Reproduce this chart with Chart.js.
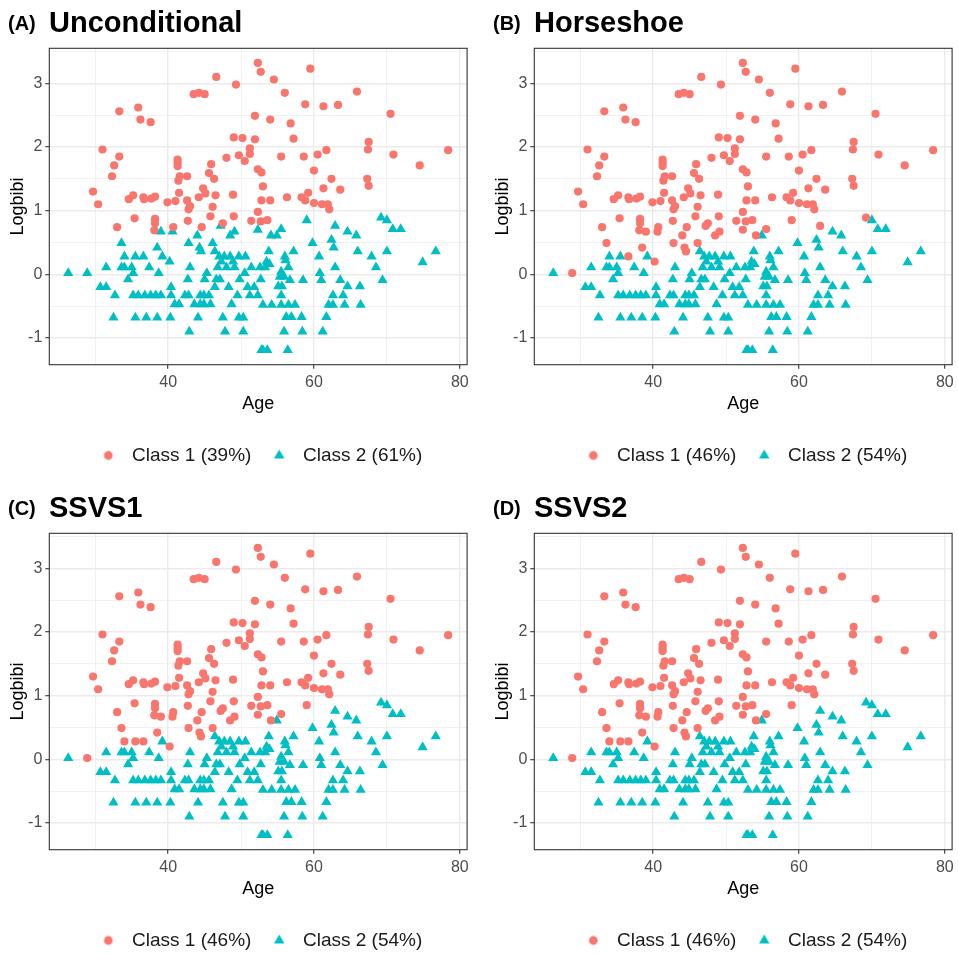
<!DOCTYPE html>
<html>
<head>
<meta charset="utf-8">
<title>Latent classes: Age vs Logbibi</title>
<style>
  body { margin: 0; background: #fff; }
  #page { position: relative; width: 958px; height: 954px; }
  .panel { position: absolute; width: 473px; height: 485px; }
  .tag, .name { position: absolute; font-family: "Liberation Sans", Arial, sans-serif; font-weight: bold; color: #000; white-space: nowrap; }
  .tag { font-size: 20px; line-height: 20px; }
  .name { font-size: 29px; line-height: 29px; }
</style>
<script src="https://cdn.jsdelivr.net/npm/chart.js"></script>
</head>
<body>
<div id="page"></div>

<script>
// points that are Class 1 in every panel
const sureAge1 = [52.3,52.7,46.6,49.3,43.5,44.2,45.0,33.3,35.9,36.2,37.6,51.9,49.0,50.2,51.9,51.2,49.7,51.2,50.5,48.0,
  31.0,33.3,32.6,32.3,29.7,30.4,41.3,41.3,41.3,41.6,42.6,41.4,45.9,45.6,46.3,44.8,45.1,44.2,46.5,41.5,
  42.6,41.0,39.9,43.0,42.8,46.1,48.9,52.3,52.8,52.3,52.8,53.0,34.6,35.2,36.6,36.7,37.7,38.2,35.4,38.2,
  42.7,45.8,49.0,51.4,38.2,38.1,33.0,40.7,44.6,47.5,52.7,59.5,54.5,56.0,65.9,58.8,61.3,63.3,70.5,54.0,
  56.8,57.2,67.5,67.4,78.4,61.7,60.5,58.6,55.5,70.9,74.5,60.0,62.4,67.3,67.5,61.3,63.6,54.0,56.3,58.3,
  59.2,58.8,60.0,61.1,61.9,62.1,53.6];
const sureLogbibi1 = [3.32,3.18,3.10,2.98,2.83,2.85,2.83,2.56,2.62,2.43,2.39,2.49,2.15,2.14,2.12,1.98,1.87,1.89,1.78,1.83,
  1.96,1.85,1.71,1.54,1.30,1.10,1.80,1.75,1.70,1.54,1.54,1.47,1.73,1.59,1.50,1.35,1.27,1.21,1.24,1.28,
  1.16,1.15,1.13,1.07,1.02,1.06,1.25,1.65,1.60,0.98,1.16,1.38,1.18,1.24,1.21,1.18,1.19,1.22,0.88,0.87,
  0.84,0.91,0.91,0.84,0.80,0.69,0.74,0.74,0.74,0.80,0.83,3.23,3.06,2.85,2.87,2.67,2.64,2.66,2.52,2.43,
  2.37,2.13,2.08,1.96,1.95,1.95,1.88,1.85,1.85,1.88,1.71,1.63,1.50,1.50,1.39,1.35,1.33,1.16,1.21,1.21,
  1.28,1.16,1.12,1.10,1.10,1.02,0.85];

// points that are Class 2 in every panel
const sureAge2 = [26.3,31.5,30.7,31.5,32.7,32.5,33.6,34.0,35.0,35.2,34.5,37.4,38.7,39.2,35.2,35.9,36.8,37.6,38.3,39.0,
  35.5,37.0,38.5,40.3,40.4,40.4,40.9,41.5,43.0,42.7,42.3,42.8,43.6,44.4,44.9,45.8,44.4,44.9,45.6,45.3,
  45.0,44.1,42.9,46.4,47.0,47.7,48.5,49.7,50.6,47.3,48.9,46.8,48.0,49.1,46.6,47.1,46.4,48.3,49.5,48.7,
  47.5,49.7,50.3,47.8,50.3,49.8,50.5,51.4,50.9,51.8,51.2,52.3,52.7,52.8,
  54.9,64.6,65.8,70.0,70.8,71.9,62.4,59.8,62.7,53.8,57.2,66.0,70.0,76.7,74.9,56.0,56.1,60.7,67.9,53.5,
  53.9,52.6,53.3,56.5,62.9,68.5,55.5,55.3,55.9,60.8,61.0,56.7,58.5,63.6,69.4,55.1,55.6,64.6,66.3,55.5,
  62.6,64.0,53.0,54.2,55.5,56.5,57.4,62.0,62.6,64.2,66.4,56.2,56.9,58.3,61.7,55.9,58.4,61.2,53.0,53.6,
  56.4];
const sureLogbibi2 = [0.02,0.11,-0.20,-0.20,-0.33,-0.68,0.11,0.11,0.11,0.02,-0.08,0.11,0.02,0.28,-0.33,-0.33,-0.33,-0.33,-0.33,-0.33,
  -0.68,-0.68,-0.68,-0.68,-0.20,-0.33,-0.47,-0.47,0.11,-0.08,-0.33,-0.33,-0.47,-0.47,-0.47,-0.47,-0.33,-0.33,-0.33,0.02,
  -0.08,-0.68,-0.90,0.36,0.28,0.28,0.28,0.28,0.28,0.20,0.20,0.11,0.11,0.11,-0.08,-0.08,-0.20,-0.20,-0.33,-0.47,
  -0.68,-0.68,-0.68,-0.90,-0.90,-0.08,0.02,0.11,-0.20,-0.20,-0.33,-0.33,-0.08,-1.19,
  0.61,0.67,0.61,0.85,0.71,0.71,0.54,0.49,0.42,0.36,0.36,0.36,0.36,0.36,0.19,0.28,0.22,0.28,0.28,0.20,
  0.16,0.11,0.11,0.11,0.11,0.11,0.04,-0.04,-0.04,0.02,-0.09,-0.09,-0.09,-0.09,-0.09,-0.19,-0.19,-0.19,-0.19,-0.33,
  -0.33,-0.33,-0.48,-0.48,-0.48,-0.48,-0.48,-0.48,-0.48,-0.48,-0.48,-0.67,-0.67,-0.67,-0.67,-0.90,-0.90,-0.90,-1.19,-1.19,
  -1.19];

// points whose class changes between the four models
const swingAge = [28.9,36.6,38.5,40.2,33.6,39.0,40.6,42.8,44.0,44.3,44.5,46.1,48.5,49.1,52.3,54.1,55.5,59.0,47.2,62.9,69.2,34.0,35.5];
const swingLogbibi = [0.02,0.28,0.42,0.20,0.49,0.67,0.67,0.49,0.61,0.42,0.36,0.49,0.61,0.67,0.70,0.61,0.71,0.85,0.76,0.76,0.89,0.28,0.28];
const swingUnconditional = [2,2,2,2,2,2,2,2,2,2,2,2,2,2,2,2,2,2,2,2,2,2,2];
const swingHorseshoe     = [1,1,1,1,1,1,1,1,1,1,1,1,1,1,1,1,1,1,1,1,1,2,2];
const swingSSVS1         = [1,1,1,1,1,1,1,1,1,1,1,1,1,1,1,1,1,1,1,2,2,1,1];
const swingSSVS2         = [1,1,1,1,1,1,1,1,1,1,1,1,1,1,1,1,1,1,1,2,2,1,1];

const panelTags = ['(A)', '(B)', '(C)', '(D)'];
const panelNames = ['Unconditional', 'Horseshoe', 'SSVS1', 'SSVS2'];
const class1Share = ['39%', '46%', '46%', '46%'];
const class2Share = ['61%', '54%', '54%', '54%'];

const ageTicks = [40, 60, 80];
const ageGrid = [30, 40, 50, 60, 70, 80];
const logbibiTicks = [-1, 0, 1, 2, 3];
const logbibiGrid = [-1, -0.5, 0, 0.5, 1, 1.5, 2, 2.5, 3, 3.5];

const RED = '#F8766D';
const TEAL = '#00BFC4';
const FONT = '"Liberation Sans", Arial, Helvetica, sans-serif';

Chart.defaults.font.family = FONT;

function makeIcon(shape, color) {
  const c = document.createElement('canvas');
  c.width = 16; c.height = 16;
  const g = c.getContext('2d');
  g.fillStyle = color;
  g.beginPath();
  if (shape === 'circle') {
    g.arc(8, 8, 4.4, 0, Math.PI * 2);
  } else {
    const r = 6.1;
    g.moveTo(8, 8 - r);
    g.lineTo(8 + r * 0.866, 8 + r * 0.5);
    g.lineTo(8 - r * 0.866, 8 + r * 0.5);
    g.closePath();
  }
  g.fill();
  return c;
}
const legendIcons = [makeIcon('circle', RED), makeIcon('triangle', TEAL)];

// ggplot-like panel border
const panelBorder = {
  id: 'panelBorder',
  afterDraw(chart) {
    const a = chart.chartArea, ctx = chart.ctx;
    ctx.save();
    ctx.strokeStyle = '#333333';
    ctx.lineWidth = 1.1;
    ctx.strokeRect(a.left, a.top, a.right - a.left, a.bottom - a.top);
    ctx.restore();
  }
};

// centre the legend under the plotting panel, not the whole canvas
const legendUnderPanel = {
  id: 'legendUnderPanel',
  afterLayout(chart) {
    const lg = chart.legend, a = chart.chartArea;
    const dx = (a.left + a.right) / 2 - (lg.left + lg.right) / 2;
    lg.left += dx;
    lg.right += dx;
  }
};

function splitPoints(swingClass) {
  const c1 = sureAge1.map((x, i) => ({x: x, y: sureLogbibi1[i]}));
  const c2 = sureAge2.map((x, i) => ({x: x, y: sureLogbibi2[i]}));
  swingAge.forEach((x, i) => {
    const p = {x: x, y: swingLogbibi[i]};
    if (swingClass[i] === 1) c1.push(p); else c2.push(p);
  });
  return [c1, c2];
}

const swingByPanel = [swingUnconditional, swingHorseshoe, swingSSVS1, swingSSVS2];
const page = document.getElementById('page');

panelNames.forEach((name, k) => {
  const left = (k % 2) * 485;
  const top = Math.floor(k / 2) * 485;

  const box = document.createElement('div');
  box.className = 'panel';
  box.style.left = left + 'px';
  box.style.top = top + 'px';
  const canvas = document.createElement('canvas');
  box.appendChild(canvas);
  page.appendChild(box);

  const tag = document.createElement('div');
  tag.className = 'tag';
  tag.textContent = panelTags[k];
  tag.style.left = (left + 8) + 'px';
  tag.style.top = (top + 13) + 'px';
  page.appendChild(tag);

  const title = document.createElement('div');
  title.className = 'name';
  title.textContent = name;
  title.style.left = (left + 49) + 'px';
  title.style.top = (top + 8) + 'px';
  page.appendChild(title);

  const [c1, c2] = splitPoints(swingByPanel[k]);

  new Chart(canvas, {
    type: 'scatter',
    data: {
      datasets: [
        {
          label: 'Class 1 (' + class1Share[k] + ')',
          data: c1,
          pointStyle: 'circle',
          pointRadius: 4.1,
          pointBackgroundColor: RED,
          pointBorderWidth: 0
        },
        {
          label: 'Class 2 (' + class2Share[k] + ')',
          data: c2,
          pointStyle: 'triangle',
          pointRadius: 5.9,
          pointBackgroundColor: TEAL,
          pointBorderWidth: 0
        }
      ]
    },
    options: {
      responsive: true,
      maintainAspectRatio: false,
      animation: false,
      events: [],
      layout: { padding: { top: 48.3, left: 0, right: 4.2, bottom: 10 } },
      scales: {
        x: {
          type: 'linear',
          min: 23.7,
          max: 81.0,
          afterBuildTicks: s => { s.ticks = ageGrid.map(v => ({value: v})); },
          afterFit: s => { s.height = 67.6; },
          border: { display: false },
          grid: {
            color: '#EBEBEB',
            lineWidth: c => ageTicks.includes(c.tick.value) ? 1.4 : 0.7,
            tickColor: c => ageTicks.includes(c.tick.value) ? '#333333' : 'rgba(0,0,0,0)',
            tickLength: 4,
            tickWidth: 1.1
          },
          ticks: {
            autoSkip: false,
            maxRotation: 0,
            padding: 4,
            color: '#4D4D4D',
            font: { size: 16 },
            callback: v => ageTicks.includes(v) ? String(v) : ''
          },
          title: {
            display: true,
            text: 'Age',
            color: '#000',
            font: { size: 18 },
            padding: { top: 0, bottom: 17 }
          }
        },
        y: {
          type: 'linear',
          min: -1.42,
          max: 3.55,
          afterBuildTicks: s => { s.ticks = logbibiGrid.map(v => ({value: v})); },
          afterFit: s => { s.width = 49.3; },
          border: { display: false },
          grid: {
            color: '#EBEBEB',
            lineWidth: c => logbibiTicks.includes(c.tick.value) ? 1.4 : 0.7,
            tickColor: c => logbibiTicks.includes(c.tick.value) ? '#333333' : 'rgba(0,0,0,0)',
            tickLength: 4,
            tickWidth: 1.1
          },
          ticks: {
            autoSkip: false,
            padding: 3,
            color: '#4D4D4D',
            font: { size: 16 },
            callback: v => logbibiTicks.includes(v) ? String(v) : ''
          },
          title: {
            display: true,
            text: 'Logbibi',
            color: '#000',
            font: { size: 18 },
            padding: { top: 7, bottom: 0 }
          }
        }
      },
      plugins: {
        tooltip: { enabled: false },
        legend: {
          position: 'bottom',
          labels: {
            usePointStyle: true,
            pointStyleWidth: 28.4,
            padding: 13.7,
            color: '#1A1A1A',
            font: { size: 19 },
            generateLabels: chart => Chart.defaults.plugins.legend.labels.generateLabels(chart)
              .map((item, i) => Object.assign(item, { pointStyle: legendIcons[i] }))
          }
        }
      }
    },
    plugins: [panelBorder, legendUnderPanel]
  });
});
</script>
</body>
</html>
